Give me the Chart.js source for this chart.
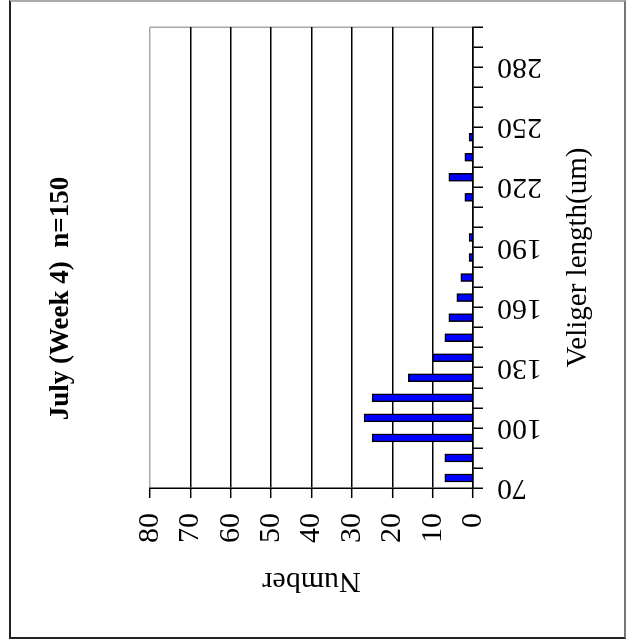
<!DOCTYPE html>
<html>
<head>
<meta charset="utf-8">
<script src="https://cdn.jsdelivr.net/npm/chart.js@4.4.0/dist/chart.umd.min.js"></script>
<style>
  body { margin: 0; width: 635px; height: 641px; overflow: hidden; background: #fff; position: relative; }
  /* chart is drawn as an ordinary column chart, then turned a quarter turn */
  #box { position: absolute; left: -25px; top: -19px; width: 685px; height: 635px; transform: rotate(-90deg); }
  #frame { position: absolute; left: 9px; top: 0; width: 617px; height: 639px; box-sizing: border-box;
           border-style: solid; border-width: 2px; border-color: #aaa #777 #222 #222; pointer-events: none; }
</style>
</head>
<body>
<div id="box"><canvas id="chartCanvas" width="685" height="635"></canvas></div>
<div id="frame"></div>
<script>
// size bins (um), lower edge of each 10 um class
const binStarts = [70, 80, 90, 100, 110, 120, 130, 140, 150, 160, 170, 180, 190, 200, 210, 220, 230, 240, 250, 260, 270, 280, 290];
const counts    = [ 7,  7, 25,  27,  25,  16,  10,   7,   6,   4,   3,   1,   1,   0,   2,   6,   2,   1,   0,   0,   0,   0,   0];
const binWidth = 10;
const lengthTicks = [70, 100, 130, 160, 190, 220, 250, 280];
const lengthMin = 70;
const lengthMax = 300;
const numberMax = 80;
const titleText = "July (Week 4)  n=150";

const serif = "'Liberation Serif', 'Times New Roman', serif";
const gray = "#a8a8a8";

Chart.defaults.font.family = serif;
Chart.defaults.color = "#000";

const points = binStarts.map((b, i) => ({ x: b + binWidth / 2, y: counts[i] }));

const ctx = document.getElementById("chartCanvas").getContext("2d");

new Chart(ctx, {
  type: "bar",
  data: {
    datasets: [{
      data: points,
      xAxisID: "x",
      yAxisID: "y",
      backgroundColor: "#0000ff",
      borderColor: "#000",
      borderWidth: 1.5,
      barThickness: 8,
    }],
  },
  options: {
    responsive: false,
    animation: false,
    layout: { padding: 0 },
    plugins: {
      legend: { display: false },
      tooltip: { enabled: false },
      title: {
        display: true,
        text: titleText,
        color: "#000",
        font: { family: serif, size: 27, weight: "bold" },
        padding: { top: 45, bottom: 72.6 },
      },
    },
    scales: {
      x: {
        type: "linear",
        position: "bottom",
        min: lengthMin,
        max: lengthMax,
        offset: false,
        afterFit: s => { s.height = 162; },
        border: { color: "#000", width: 1.5 },
        grid: {
          offset: false,
          color: c => (c.tick && c.tick.value === lengthMax ? gray : "rgba(0,0,0,0)"),
          lineWidth: 1.5,
          tickColor: "#000",
          tickWidth: 1.5,
          tickLength: 10,
        },
        ticks: {
          stepSize: binWidth,
          autoSkip: false,
          minRotation: 90,
          maxRotation: 90,
          padding: 14,
          color: "#000",
          font: { family: serif, size: 30, weight: "normal" },
          callback: v => (lengthTicks.includes(v) ? String(v) : ""),
        },
        title: {
          display: true,
          text: "Veliger length(um)",
          color: "#000",
          font: { family: serif, size: 29 },
          padding: { top: 0, bottom: 39.6 },
        },
      },
      y: {
        position: "left",
        min: 0,
        max: numberMax,
        afterFit: s => { s.width = 153; },
        border: { color: "#000", width: 1.5 },
        grid: {
          color: c => (c.tick && c.tick.value === numberMax ? gray : "#000"),
          lineWidth: 1.4,
          tickColor: "#000",
          tickWidth: 1.5,
          tickLength: 10,
        },
        ticks: {
          stepSize: 10,
          padding: 15,
          color: "#000",
          font: { family: serif, size: 30, weight: "normal" },
        },
        title: {
          display: true,
          text: "Number",
          color: "#000",
          font: { family: serif, size: 30 },
          padding: { top: 42, bottom: 0 },
        },
      },
      // empty strip so the plot stops short of the title's far end
      spacer: {
        type: "linear",
        position: "right",
        grid: { display: false },
        border: { display: false },
        ticks: { display: false },
        afterFit: s => { s.width = 71; },
      },
    },
  },
});
</script>
</body>
</html>
